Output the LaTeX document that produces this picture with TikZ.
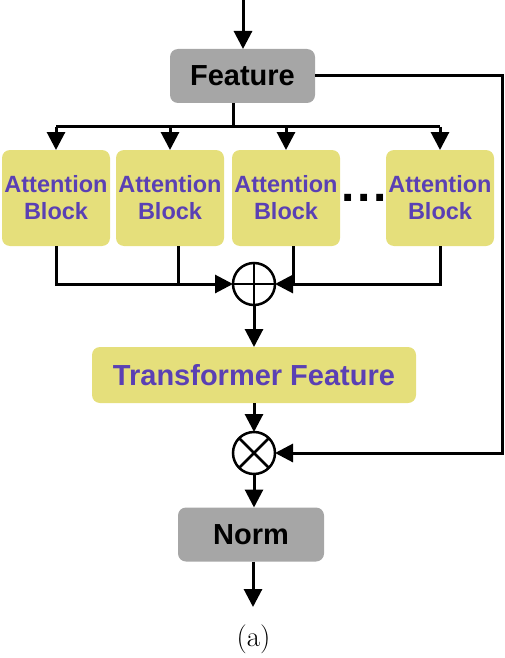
\documentclass[tikz,border=0pt]{standalone}
\usepackage{fontspec}
\newfontfamily\arialfont{Liberation Sans}
\usetikzlibrary{arrows.meta}
\definecolor{boxgray}{HTML}{A6A6A6}
\definecolor{boxyellow}{HTML}{E5DF7B}
\definecolor{textpurple}{HTML}{5A40B4}

\begin{document}
\begin{tikzpicture}[x=1pt,y=-1pt,
  every node/.style={inner sep=0pt,outer sep=0pt},
  big font/.style={font=\arialfont\bfseries\fontsize{29}{29}\selectfont},
  grey box/.style={rectangle,rounded corners=8pt,fill=boxgray,minimum height=54pt,big font},
  attention/.style={rectangle,rounded corners=8pt,fill=boxyellow,text=textpurple,
    minimum width=108pt,minimum height=96pt,align=center,
    font=\arialfont\bfseries\fontsize{23.5}{27}\selectfont},
  op/.style={circle,draw,line width=2.5pt,minimum size=42pt},
  wire/.style={line width=3pt},
  flow/.style={wire,-{Triangle[length=18pt,width=18pt]}}]
  \useasboundingbox (0,0) rectangle (504,658);

  \node[grey box,minimum width=145pt] (feat) at (242.5,76) {Feature};
  \foreach \i/\x in {1/56,2/170,3/286,4/440}
    \node[attention] (att\i) at (\x,198) {Attention\\Block};
  \node[font=\arialfont\bfseries\fontsize{48}{48}\selectfont,anchor=base] (dots) at (364,201) {.\kern3pt.\kern3pt.};
  \node[op] (sum) at (254,284) {};
  \node[attention,minimum width=324pt,minimum height=56pt,big font] (tf) at (254,375) {Transformer Feature};
  \node[op] (prod) at (254,453) {};
  \node[grey box,minimum width=146pt] (norm) at (251,534.5) {Norm};
  \node[font=\fontsize{29}{29}\selectfont] (cap) at (253.5,639.5) {(a)};

  \coordinate (in) at (243,0);
  \coordinate (split) at (233,127);
  \coordinate (ret) at (502,76);
  \coordinate (out) at (253,607);

  % signs inside the two operators
  \draw[line width=2.5pt] (sum.north) -- (sum.south) (sum.west) -- (sum.east);
  \draw[line width=2.5pt] (prod.north west) -- (prod.south east) (prod.north east) -- (prod.south west);

  % split into the attention blocks
  \draw[flow] (in) -- (in |- feat.north);
  \draw[wire] (feat.south -| split) -- (split);
  \draw[wire] (att1.north |- split) -- (att4.north |- split);
  \foreach \i in {1,...,4}
    \draw[flow] (att\i.north |- split) -- (att\i.north);

  % merge
  \draw[flow] (att1.south) |- (sum.west);
  \draw[flow] (att4.south) |- (sum.east);
  \draw[wire] ([xshift=8pt]att2.south) -- ([xshift=8pt]att2.south |- sum);
  \draw[wire] ([xshift=7pt]att3.south) -- ([xshift=7pt]att3.south |- sum);

  \draw[flow] (sum.south) -- (tf.north);
  \draw[flow] (tf.south) -- (prod.north);
  \draw[flow] (feat.east) -- (ret) |- (prod.east);
  \draw[flow] (prod.south) -- (prod.south |- norm.north);
  \draw[flow] (out |- norm.south) -- (out);
\end{tikzpicture}
\end{document}
